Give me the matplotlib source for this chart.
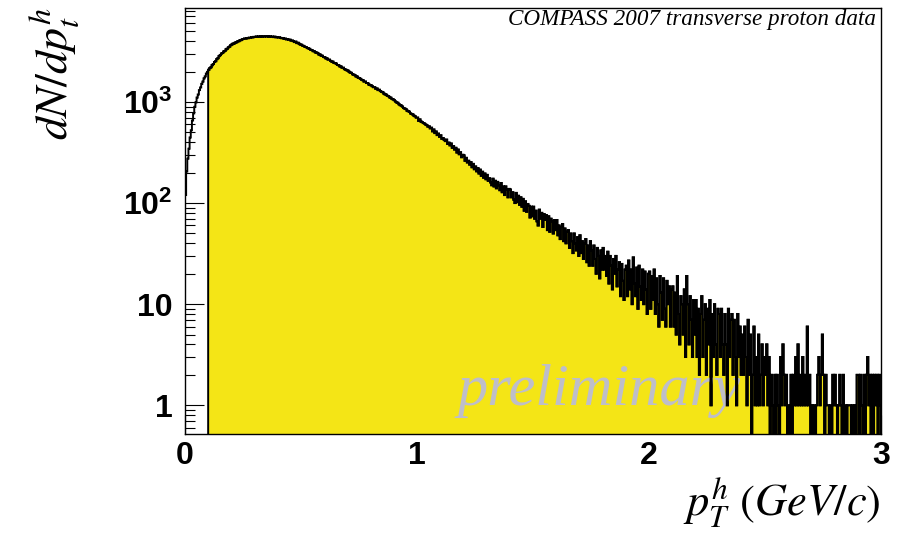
import numpy as np
import matplotlib.pyplot as plt
from matplotlib.ticker import LogLocator, NullFormatter, MultipleLocator

plt.rcParams['mathtext.fontset'] = 'custom'
plt.rcParams['mathtext.rm'] = 'Liberation Sans:bold'
plt.rcParams['mathtext.bf'] = 'Liberation Sans:bold'
plt.rcParams['mathtext.it'] = 'Liberation Sans:bold:italic'

# p_T^h range of the histogram and the analysis cut
pt_lo, pt_hi = 0.0, 3.0
pt_cut = 0.1

# hadron counts, 5 MeV/c bins, one row per 0.1 GeV/c
count_rows = [
    [120, 205, 275, 345, 445, 525, 655, 770, 895, 990, 1105, 1185, 1310, 1390, 1510, 1590, 1710, 1790, 1910, 1985],
    [2080, 2160, 2205, 2310, 2370, 2480, 2530, 2650, 2710, 2840, 2905, 3010, 3050, 3150, 3190, 3310, 3360, 3470, 3520, 3640],
    [3700, 3770, 3790, 3870, 3885, 3970, 3990, 4075, 4090, 4170, 4190, 4240, 4230, 4290, 4270, 4320, 4310, 4370, 4350, 4400],
    [4390, 4440, 4400, 4450, 4410, 4460, 4420, 4470, 4430, 4480, 4440, 4470, 4420, 4460, 4410, 4430, 4380, 4420, 4360, 4390],
    [4340, 4360, 4300, 4270, 4280, 4210, 4230, 4160, 4190, 4120, 4130, 4040, 4050, 3990, 3910, 3950, 3820, 3850, 3760, 3690],
    [3680, 3600, 3580, 3500, 3490, 3410, 3390, 3350, 3270, 3260, 3180, 3170, 3090, 3080, 3040, 2950, 2940, 2870, 2860, 2780],
    [2770, 2700, 2690, 2620, 2620, 2550, 2510, 2500, 2430, 2420, 2390, 2320, 2310, 2250, 2240, 2180, 2180, 2110, 2090, 2060],
    [2040, 1990, 1950, 1940, 1880, 1860, 1840, 1790, 1780, 1730, 1720, 1690, 1650, 1640, 1590, 1590, 1540, 1540, 1490, 1470],
    [1460, 1430, 1400, 1400, 1350, 1360, 1310, 1320, 1280, 1260, 1250, 1210, 1190, 1180, 1150, 1140, 1110, 1100, 1070, 1060],
    [1040, 1010, 990, 980, 950, 930, 920, 900, 870, 860, 850, 820, 810, 800, 770, 760, 750, 730, 720, 700],
    [700, 650, 672, 640, 632, 618, 612, 598, 590, 570, 574, 548, 556, 512, 534, 492, 510, 470, 486, 452],
    [468, 432, 440, 422, 410, 424, 384, 396, 372, 388, 352, 366, 338, 352, 316, 338, 304, 318, 284, 300],
    [296, 262, 280, 252, 262, 240, 254, 226, 244, 216, 230, 206, 222, 196, 214, 186, 204, 178, 196, 172],
    [190, 166, 176, 160, 150, 174, 146, 166, 140, 162, 150, 134, 158, 128, 146, 120, 146, 136, 114, 138],
    [136, 114, 128, 108, 100, 126, 102, 118, 96, 114, 92, 110, 84, 104, 82, 98, 94, 72, 92, 74],
    [92, 70, 84, 66, 60, 86, 70, 80, 58, 78, 68, 76, 54, 74, 52, 70, 66, 50, 68, 54],
    [68, 48, 60, 44, 58, 62, 42, 56, 40, 52, 54, 36, 50, 42, 32, 50, 40, 34, 46, 30],
    [48, 32, 42, 28, 40, 44, 26, 38, 24, 42, 34, 24, 38, 28, 20, 36, 30, 18, 34, 22],
    [36, 22, 30, 19, 33, 16, 30, 24, 14, 28, 20, 30, 15, 22, 26, 12, 25, 17, 11, 22],
    [24, 12, 27, 14, 22, 10, 29, 16, 12, 23, 9, 24, 15, 11, 22, 10, 21, 14, 8, 20],
    [21, 9, 19, 11, 22, 8, 18, 10, 6, 19, 13, 7, 18, 9, 6, 17, 10, 15, 6, 14],
    [15, 6, 13, 5, 19, 8, 4, 12, 10, 5, 14, 3, 19, 10, 4, 12, 7, 3, 11, 5],
    [11, 3, 9, 2, 8, 12, 3, 7, 10, 2, 9, 4, 11, 1, 8, 3, 10, 4, 2, 9],
    [8, 3, 9, 4, 2, 8, 4, 1, 9, 3, 7, 8, 2, 7, 3, 1, 8, 3, 6, 2],
    [5, 2, 6, 3, 1, 7, 2, 5, 0, 2, 6, 1, 3, 1, 5, 1, 2, 4, 1, 3],
    [2, 4, 1, 3, 0, 2, 1, 0, 2, 0, 2, 1, 0, 3, 1, 4, 2, 1, 2, 0],
    [1, 0, 2, 0, 2, 1, 3, 1, 4, 1, 2, 1, 3, 1, 2, 1, 6, 1, 2, 0],
    [1, 0, 1, 0, 1, 2, 3, 1, 2, 5, 2, 0, 2, 1, 1, 0, 1, 0, 2, 1],
    [2, 1, 0, 1, 2, 1, 0, 2, 0, 1, 0, 1, 1, 1, 0, 1, 0, 1, 0, 2],
    [2, 0, 2, 1, 0, 2, 0, 2, 3, 1, 2, 0, 2, 0, 2, 1, 2, 0, 2, 1],
]

x_ticks = [0, 1, 2, 3]
x_tick_labels = ['0', '1', '2', '3']
y_ticks = [1, 10, 100, 1000]
y_tick_labels = ['1', '10', r'$10^{2}$', r'$10^{3}$']

counts = np.concatenate([np.array(r, dtype=float) for r in count_rows])
edges = np.linspace(pt_lo, pt_hi, len(counts) + 1)
centers = 0.5 * (edges[:-1] + edges[1:])
selected = np.where(centers > pt_cut, counts, 0.0)

# empty bins are pushed below the visible range on the log axis
floor = 0.1
all_h = np.maximum(counts, floor)
cut_h = np.maximum(selected, floor)

fig = plt.figure(figsize=(8.97, 5.35), dpi=100)
ax = fig.add_axes([0.2062, 0.1888, 0.776, 0.7963])
ax.set_yscale('log')

ax.stairs(cut_h, edges, baseline=floor, fill=True, facecolor='#f4e516',
          edgecolor='black', lw=1.4, zorder=1)
ax.stairs(all_h, edges, baseline=floor, fill=False, color='black',
          lw=1.4, zorder=3)

ax.set_xlim(pt_lo, pt_hi)
ax.set_ylim(0.52, 8500)
ax.set_axisbelow(True)

ax.set_xticks(x_ticks, labels=x_tick_labels, fontsize=23,
              fontweight='bold', fontfamily='Liberation Sans')
ax.xaxis.set_minor_locator(MultipleLocator(0.1))
ax.set_yticks(y_ticks, labels=y_tick_labels, fontsize=23,
              fontweight='bold', fontfamily='Liberation Sans')
ax.yaxis.set_minor_locator(LogLocator(base=10, subs=np.arange(2, 10)))
ax.yaxis.set_minor_formatter(NullFormatter())

ax.tick_params(axis='both', which='major', direction='in', length=14,
               width=0.8, top=False, right=False)
ax.tick_params(axis='both', which='minor', direction='in', length=7,
               width=0.8, top=False, right=False)
ax.tick_params(axis='y', which='major', pad=9)
ax.tick_params(axis='x', which='major', pad=5)
for s in ax.spines.values():
    s.set_linewidth(1.0)

ax.text(0.668, 0.243, 'preliminary', transform=fig.transFigure,
        ha='center', va='baseline', fontsize=43.5, fontstyle='italic',
        fontfamily='Liberation Serif', color='#bebec9', zorder=2)

fig.text(0.9766, 0.9533, 'COMPASS 2007 transverse proton data',
         ha='right', va='baseline', fontsize=16.7, fontstyle='italic',
         fontfamily='Liberation Serif')

fig.text(0.0758, 0.738, r'$dN/dp^{h}_{t}$', rotation=90,
         rotation_mode='anchor', ha='left', va='baseline', fontsize=33,
         math_fontfamily='stix')
fig.text(0.982, 0.0355, r'$p^{h}_{T}\ (GeV/c)$', ha='right',
         va='baseline', fontsize=32, math_fontfamily='stix')

fig.savefig('out.png', dpi=100)
